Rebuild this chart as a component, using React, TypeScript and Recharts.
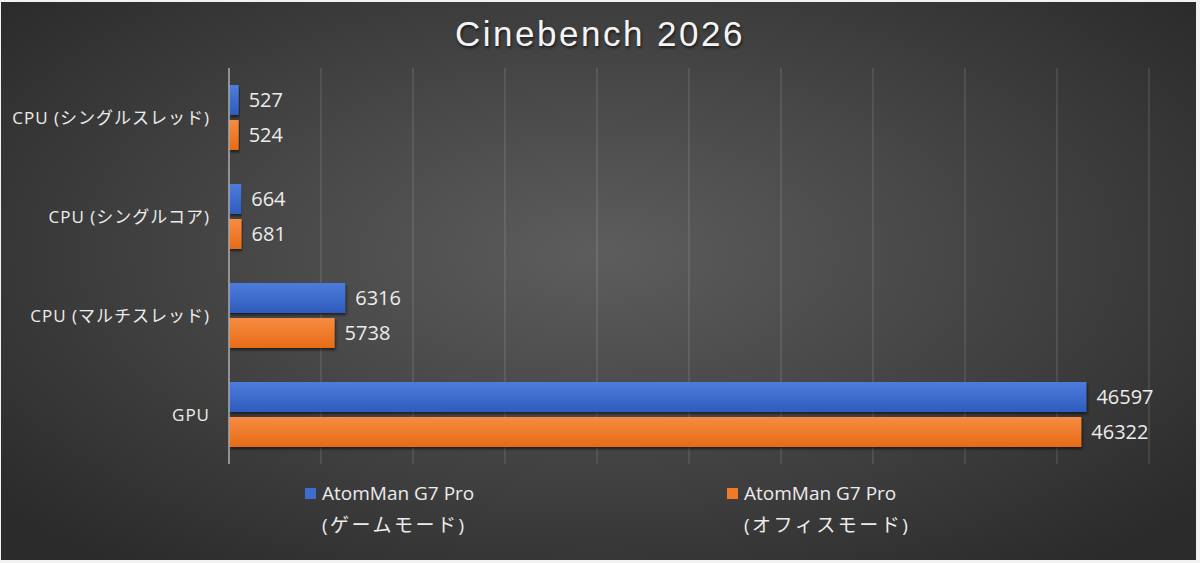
import { BarChart, Bar, XAxis, YAxis, CartesianGrid, LabelList } from 'recharts'

// ─── Data ────────────────────────────────────────────────────────────────────
const categories = ['CPU (シングルスレッド)', 'CPU (シングルコア)', 'CPU (マルチスレッド)', 'GPU']
const gameMode = [527, 664, 6316, 46597]
const officeMode = [524, 681, 5738, 46322]
const xTicks = [0, 5000, 10000, 15000, 20000, 25000, 30000, 35000, 40000, 45000, 50000]
const seriesNames = ['AtomMan G7 Pro', 'AtomMan G7 Pro']
const seriesModes = ['(ゲームモード)', '(オフィスモード)']

const data = categories.map((name, i) => ({ name, game: gameMode[i], office: officeMode[i] }))

const BLUE = '#3d6dcf'
const ORANGE = '#f07a28'
const TEXT = '#ececec'
const FONT = '"Open Sans", "Noto Sans CJK JP", sans-serif'

// ─── Legend ──────────────────────────────────────────────────────────────────
function ChartLegend() {
  const colors = [BLUE, ORANGE]
  const lefts = [305, 727]
  return (
    <div style={{ position: 'absolute', left: 0, top: 480, width: 1200, height: 70, fontFamily: FONT, color: TEXT }}>
      {seriesNames.map((n, i) => (
        <div key={i} style={{ position: 'absolute', left: lefts[i], top: 0 }}>
          <div style={{ display: 'flex', alignItems: 'center' }}>
            <span style={{ width: 11, height: 11, background: colors[i], display: 'inline-block', marginRight: 6 }} />
            <span style={{ fontSize: 19 }}>{n}</span>
          </div>
          <div style={{ fontSize: 19, marginLeft: 17, marginTop: 4, letterSpacing: 2.5 }}>{seriesModes[i]}</div>
        </div>
      ))}
    </div>
  )
}

export default function App() {
  return (
    <div style={{ position: 'absolute', left: 0, top: 0, width: 1200, height: 563, background: '#f2f2f2' }}>
      <div
        style={{
          position: 'absolute', left: 1, top: 2, width: 1195, height: 558,
          background: 'radial-gradient(ellipse 65% 70% at 50% 45%, #5d5d5d 0%, #474747 45%, #2b2b2b 100%)',
        }}
      />
      <div
        style={{
          position: 'absolute', left: 0, top: 14, width: 1200, textAlign: 'center',
          fontFamily: '"Liberation Sans", sans-serif', fontSize: 35, letterSpacing: 2.5,
          color: '#f4f4f4', textShadow: '1px 2px 3px rgba(0,0,0,0.6)',
        }}
      >
        Cinebench 2026
      </div>
      <div style={{ position: 'absolute', left: 0, top: 0 }}>
        <BarChart
          width={1200}
          height={563}
          data={data}
          layout="vertical"
          margin={{ top: 68, right: 51, bottom: 99, left: 10 }}
          barSize={30}
          barGap={5}
        >
          <defs>
            <linearGradient id="gBlue" x1="0" y1="0" x2="0" y2="1">
              <stop offset="0%" stopColor="#4c7ddc" />
              <stop offset="100%" stopColor="#2f5cbd" />
            </linearGradient>
            <linearGradient id="gOrange" x1="0" y1="0" x2="0" y2="1">
              <stop offset="0%" stopColor="#f68c42" />
              <stop offset="100%" stopColor="#e86b16" />
            </linearGradient>
            <filter id="shadow" x="-5%" y="-20%" width="110%" height="160%">
              <feDropShadow dx="1" dy="2" stdDeviation="1.5" floodColor="#000" floodOpacity="0.6" />
            </filter>
          </defs>
          <CartesianGrid horizontal={false} stroke="rgba(255,255,255,0.13)" strokeWidth={1.5} />
          <XAxis type="number" domain={[0, 50000]} ticks={xTicks} hide />
          <YAxis
            type="category"
            dataKey="name"
            width={219}
            tickLine={false}
            tickSize={0}
            tickMargin={19}
            axisLine={{ stroke: '#a9a9a9', strokeWidth: 1.5 }}
            tick={{ fill: TEXT, fontSize: 17, fontFamily: FONT, letterSpacing: 1 }}
          />
          <Bar dataKey="game" name={seriesNames[0]} fill="url(#gBlue)" filter="url(#shadow)" isAnimationActive={false}>
            <LabelList dataKey="game" position="right" offset={10} fill={TEXT} fontSize={20} fontFamily={FONT} />
          </Bar>
          <Bar dataKey="office" name={seriesNames[1]} fill="url(#gOrange)" filter="url(#shadow)" isAnimationActive={false}>
            <LabelList dataKey="office" position="right" offset={10} fill={TEXT} fontSize={20} fontFamily={FONT} />
          </Bar>
        </BarChart>
      </div>
      <ChartLegend />
    </div>
  )
}
